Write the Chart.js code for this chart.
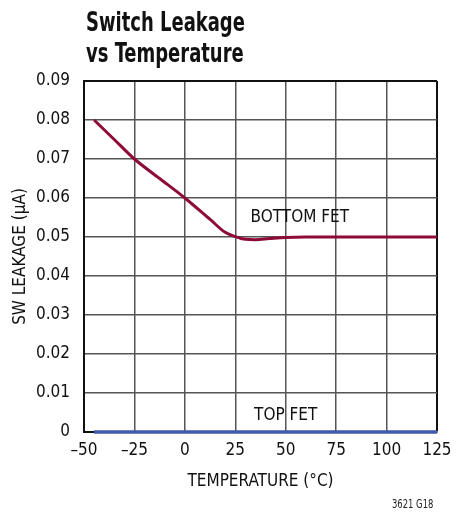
<!DOCTYPE html>
<html><head><meta charset="utf-8">
<script src="https://cdn.jsdelivr.net/npm/chart.js@4.4.0/dist/chart.umd.min.js"></script>
<style>
html,body{margin:0;padding:0;background:#fff;}
#wrap{position:relative;width:467px;height:517px;}
#title{position:absolute;left:86px;top:6px;font-family:'Liberation Sans Narrow','DejaVu Sans Condensed',sans-serif;font-weight:bold;font-size:27px;line-height:31px;color:#111;transform:scaleX(0.74);transform-origin:0 0;white-space:nowrap;}
#code{position:absolute;left:392px;top:497px;font-family:'Liberation Sans Narrow','DejaVu Sans Condensed',sans-serif;font-size:12px;color:#222;transform:scaleX(0.78);transform-origin:0 0;white-space:nowrap;}
canvas{position:absolute;left:0;top:0;}
</style></head>
<body><div id="wrap">
<canvas id="c" width="467" height="517"></canvas>
<div id="title">Switch Leakage<br>vs Temperature</div>
<div id="code">3621 G18</div>
</div>
<script>
const bottomTemps = [-45, -35, -25, -12.5, 0, 12.5, 20, 25, 30, 35, 42, 50, 60, 75, 100, 125];
const bottomLeak  = [0.080, 0.0750, 0.0700, 0.0650, 0.0600, 0.0545, 0.0512, 0.0501, 0.0494, 0.0493, 0.0496, 0.0499, 0.0500, 0.0500, 0.0500, 0.0500];
const topTemps = [-45, 125];
const topLeak  = [0, 0];
const xTicks = [-50, -25, 0, 25, 50, 75, 100, 125];
const yTicks = [0, 0.01, 0.02, 0.03, 0.04, 0.05, 0.06, 0.07, 0.08, 0.09];
const labels = [
  {text: 'BOTTOM FET', x: 57, y: 0.0551},
  {text: 'TOP FET', x: 50, y: 0.0043}
];
const FONT = "'Liberation Sans Narrow','DejaVu Sans Condensed',sans-serif";

const labelPlugin = {
  id: 'seriesLabels',
  afterDatasetsDraw(chart) {
    const {ctx, scales} = chart;
    ctx.save();
    ctx.font = '17px ' + FONT;
    ctx.fillStyle = '#111';
    ctx.textAlign = 'center';
    ctx.textBaseline = 'middle';
    labels.forEach(l => ctx.fillText(l.text, scales.x.getPixelForValue(l.x), scales.y.getPixelForValue(l.y)));
    ctx.restore();
  }
};

new Chart(document.getElementById('c'), {
  type: 'scatter',
  data: {
    datasets: [
      {data: bottomTemps.map((t, i) => ({x: t, y: bottomLeak[i]})), showLine: true, borderColor: '#8e0b35', borderWidth: 3, pointRadius: 0, cubicInterpolationMode: 'monotone', fill: false, clip: false},
      {data: topTemps.map((t, i) => ({x: t, y: topLeak[i]})), showLine: true, borderColor: '#3e5aa8', borderWidth: 3.5, pointRadius: 0, fill: false, clip: false}
    ]
  },
  options: {
    responsive: false,
    animation: false,
    layout: {padding: {top: 81, right: 30, bottom: 25, left: 0}},
    plugins: {legend: {display: false}, tooltip: {enabled: false}, title: {display: false}},
    scales: {
      x: {
        type: 'linear', min: -50, max: 125,
        afterBuildTicks: s => { s.ticks = xTicks.map(v => ({value: v})); },
        afterFit: s => { s.height = 60; },
        ticks: {font: {family: FONT, size: 17}, color: '#111', padding: 8, callback: v => v < 0 ? '\u2013' + Math.abs(v) : String(v)},
        grid: {drawTicks: false, color: c => c.tick && c.tick.value === 125 ? '#111' : '#555', lineWidth: c => c.tick && c.tick.value === 125 ? 2 : 1.5},
        border: {display: true, color: '#111', width: 2},
        title: {display: true, text: 'TEMPERATURE (°C)', font: {family: FONT, size: 17}, color: '#111', padding: {top: 4, bottom: 0}}
      },
      y: {
        type: 'linear', min: 0, max: 0.09,
        afterBuildTicks: s => { s.ticks = yTicks.map(v => ({value: v})); },
        afterFit: s => { s.width = 84; },
        ticks: {font: {family: FONT, size: 17}, color: '#111', padding: 14, callback: v => v === 0 ? '0' : v.toFixed(2)},
        grid: {drawTicks: false, color: c => c.tick && Math.abs(c.tick.value - 0.09) < 1e-9 ? '#111' : '#555', lineWidth: c => c.tick && Math.abs(c.tick.value - 0.09) < 1e-9 ? 2 : 1.5},
        border: {display: true, color: '#111', width: 2},
        title: {display: true, text: 'SW LEAKAGE (µA)', font: {family: FONT, size: 17}, color: '#111', padding: {top: 10, bottom: 0}}
      }
    }
  },
  plugins: [labelPlugin]
});
</script>
</body></html>
